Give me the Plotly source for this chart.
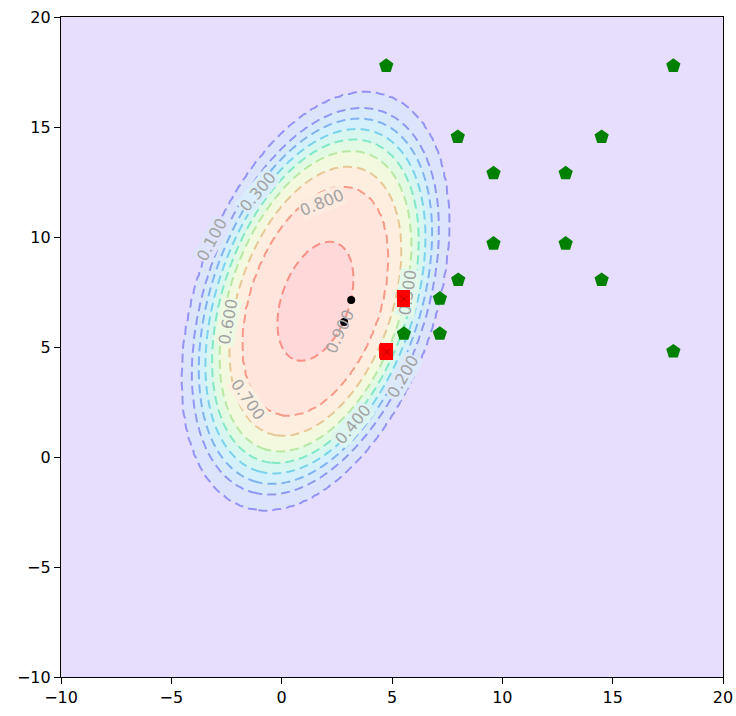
import numpy as np
import plotly.graph_objects as go

# ---- data ----
green_x = [4.74, 17.75, 7.98, 14.5, 9.6, 12.87, 9.6, 12.87, 8.0, 14.5, 7.17, 5.54, 7.17, 17.75]
green_y = [17.78, 17.78, 14.55, 14.55, 12.9, 12.9, 9.7, 9.7, 8.05, 8.05, 7.2, 5.6, 5.6, 4.8]
red_x = [5.54, 4.73]
red_y = [7.22, 4.8]
black_x = [3.15, 2.83]
black_y = [7.14, 6.14]

center = [1.53, 7.08]
cov = [[36.5, 21.4], [21.4, 90.0]]          # shape of the 0.1 contour ellipse
levels = [0.9, 0.8, 0.7, 0.6, 0.5, 0.4, 0.3, 0.2, 0.1]
level_radius = [0.285, 0.55, 0.645, 0.72, 0.775, 0.825, 0.875, 0.925, 1.0]

label_text = ["0.100", "0.300", "0.800", "0.600", "0.700", "0.900", "0.400", "0.200", "0.500"]
label_x = [-3.16, -1.07, 1.83, -2.43, -1.53, 2.64, 3.23, 5.50, 5.72]
label_y = [9.88, 12.06, 11.56, 6.16, 2.61, 5.70, 1.48, 3.66, 7.47]
label_angle = [-62, -50, -22, -80, 55, -65, -50, -60, -82]
label_bg = ["#DFE3FB", "#D9EEFA", "#FEEBDF", "#EDF9E3", "#FCF0E0", None, "#DCF5F0", "#DBE9FA", "#E2F8EA"]

# ---- field ----
gx = np.linspace(-10, 20, 241)
gy = np.linspace(-10, 20, 241)
X, Y = np.meshgrid(gx, gy)
inv = np.linalg.inv(np.array(cov))
dx = X - center[0]
dy = Y - center[1]
R = np.sqrt(inv[0, 0] * dx * dx + 2 * inv[0, 1] * dx * dy + inv[1, 1] * dy * dy)
rp = [0.0] + level_radius + [1.25]
fp = [1.0] + levels + [0.0]
Z = np.round(np.interp(R, rp, fp), 4)

fill_cols = ["#E6DEFC", "#DCE4FB", "#D7EAFB", "#D4F0FA", "#D7F6EF", "#E2FAE3",
             "#F2F9DF", "#FEEEDF", "#FFE5DC", "#FFD9D9"]
fill_scale = []
for i, c in enumerate(fill_cols):
    fill_scale.append([i / 10, c])
    fill_scale.append([(i + 1) / 10, c])

line_cols = ["#9494F4", "#86A4F3", "#7CC0F0", "#7AD8EA", "#82E8C8", "#ACEEA6",
             "#DAD69C", "#F7B88F", "#F79085"]
line_scale = [[0.0, line_cols[0]]]
for i, c in enumerate(line_cols):
    line_scale.append([(i + 1) / 10, c])
line_scale.append([1.0, line_cols[-1]])

fig = go.Figure()
fig.add_trace(go.Contour(
    x=gx, y=gy, z=Z, zmin=0, zmax=1, zauto=False,
    colorscale=fill_scale, showscale=False,
    contours=dict(start=0.1, end=0.9, size=0.1, coloring="fill"),
    line=dict(width=0), hoverinfo="skip"))
fig.add_trace(go.Contour(
    x=gx, y=gy, z=Z, zmin=0, zmax=1, zauto=False,
    colorscale=line_scale, showscale=False,
    contours=dict(start=0.1, end=0.9, size=0.1, coloring="lines"),
    line=dict(width=2, dash="9px,5px"), hoverinfo="skip"))

for t, x, y, a, bg in zip(label_text, label_x, label_y, label_angle, label_bg):
    kw = dict(bgcolor=bg) if bg else {}
    fig.add_annotation(x=x, y=y, text=t, textangle=a, showarrow=False,
                       font=dict(family="DejaVu Sans", size=16, color="#A3A3A3"),
                       borderpad=0, **kw)

fig.add_trace(go.Scatter(x=green_x, y=green_y, mode="markers",
                         marker=dict(symbol="pentagon", size=15, color="green",
                                     line=dict(width=0)), hoverinfo="skip"))
fig.add_trace(go.Scatter(x=red_x, y=red_y, mode="markers",
                         marker=dict(symbol="square", size=14, color="red",
                                     line=dict(width=0)), hoverinfo="skip"))
fig.add_trace(go.Scatter(x=black_x, y=black_y, mode="markers",
                         marker=dict(symbol="circle", size=8, color="black"),
                         hoverinfo="skip"))
# red squares drawn again above the contour labels (as in the reference)
for x, y in zip(red_x, red_y):
    fig.add_annotation(x=x, y=y, text="×", showarrow=False, width=13, height=17,
                       bgcolor="red", borderpad=0, borderwidth=0,
                       font=dict(family="DejaVu Sans", size=13, color="rgba(150,0,0,0.45)"))

axis_common = dict(range=[-10, 20], dtick=5, tick0=-10, showgrid=False, zeroline=False,
                   showline=True, linecolor="black", linewidth=1.2, mirror=True,
                   ticks="outside", ticklen=6, tickwidth=1.2, tickcolor="black",
                   automargin=False,
                   tickfont=dict(family="DejaVu Sans", size=16, color="black"))
fig.update_xaxes(**axis_common)
fig.update_yaxes(**axis_common)
fig.update_layout(width=736, height=716, showlegend=False,
                  margin=dict(l=61, r=13, t=17, b=39),
                  paper_bgcolor="white", plot_bgcolor="#E6DEFC")

fig.write_html("out.html")
